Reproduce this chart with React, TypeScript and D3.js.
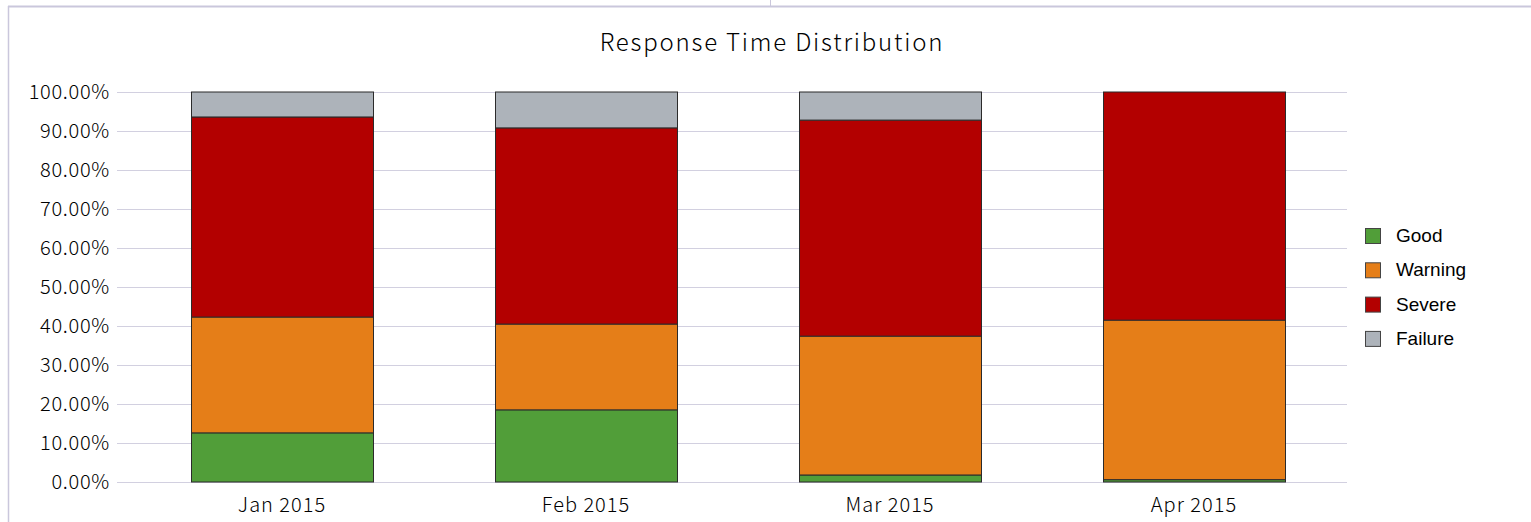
import { useEffect, useRef } from "react";
import * as d3 from "d3";

const months = ["Jan 2015", "Feb 2015", "Mar 2015", "Apr 2015"];
const seriesNames = ["Good", "Warning", "Severe", "Failure"];
const good = [12.6, 18.5, 1.8, 0.6];
const warning = [29.7, 22.0, 35.6, 40.9];
const severe = [51.3, 50.3, 55.4, 58.5];
const failure = [6.4, 9.2, 7.2, 0.0];
const yTicks = [0, 10, 20, 30, 40, 50, 60, 70, 80, 90, 100];
const colors = ["#519e39", "#e57e18", "#b30000", "#adb3ba"];

const W = 1531;
const H = 522;
const axisFont = "'Noto Sans CJK KR', 'DejaVu Sans', sans-serif";

function drawChart(el: SVGSVGElement) {
  const svg = d3.select(el);
  svg.selectAll("*").remove();

  svg.append("rect").attr("width", W).attr("height", H).attr("fill", "white");

  // frame lines
  svg.append("line").attr("x1", 8).attr("x2", W).attr("y1", 6.5).attr("y2", 6.5)
    .attr("stroke", "#cac7dc").attr("stroke-width", 2);
  svg.append("line").attr("x1", 8.5).attr("x2", 8.5).attr("y1", 6).attr("y2", H)
    .attr("stroke", "#cac7dc").attr("stroke-width", 1.5);
  svg.append("line").attr("x1", 770.5).attr("x2", 770.5).attr("y1", 0).attr("y2", 6)
    .attr("stroke", "#cac7dc").attr("stroke-width", 1);

  const x = d3.scaleBand<string>().domain(months).range([130, 1346]).paddingInner(0.4).paddingOuter(0.2);
  const y = d3.scaleLinear().domain([0, 100]).range([482, 92]);

  // grid
  svg.append("g")
    .selectAll("line")
    .data(yTicks)
    .join("line")
    .attr("x1", 117)
    .attr("x2", 1347)
    .attr("y1", (d) => Math.round(y(d)) + 0.5)
    .attr("y2", (d) => Math.round(y(d)) + 0.5)
    .attr("stroke", "#d2d0e0")
    .attr("stroke-width", 1);

  // y labels
  svg.append("g")
    .selectAll("text")
    .data(yTicks)
    .join("text")
    .attr("x", 110)
    .attr("y", (d) => y(d))
    .attr("dy", "0.36em")
    .attr("text-anchor", "end")
    .attr("font-family", axisFont)
    .attr("font-weight", 300)
    .attr("font-size", 20)
    .attr("letter-spacing", 0.7)
    .attr("fill", "#000")
    .text((d) => d3.format(".2f")(d) + "%");

  const rows = months.map((m, i) => ({
    month: m,
    Good: good[i],
    Warning: warning[i],
    Severe: severe[i],
    Failure: failure[i],
  }));
  const stacked = d3.stack<any>().keys(seriesNames)(rows);

  svg.append("g")
    .selectAll("g")
    .data(stacked)
    .join("g")
    .attr("fill", (_d, i) => colors[i])
    .selectAll("rect")
    .data((d) => d.filter((p) => p[1] - p[0] > 0))
    .join("rect")
    .attr("x", (d) => Math.round(x(d.data.month)!) + 0.5)
    .attr("width", Math.round(x.bandwidth()))
    .attr("y", (d) => y(d[1]))
    .attr("height", (d) => y(d[0]) - y(d[1]))
    .attr("stroke", "#2b2b2b")
    .attr("stroke-width", 1);

  // x labels
  svg.append("g")
    .selectAll("text")
    .data(months)
    .join("text")
    .attr("x", (d) => x(d)! + x.bandwidth() / 2)
    .attr("y", 512)
    .attr("text-anchor", "middle")
    .attr("font-family", axisFont)
    .attr("font-weight", 300)
    .attr("font-size", 20)
    .attr("letter-spacing", 1)
    .attr("fill", "#000")
    .text((d) => d);

  // title
  svg.append("text")
    .attr("x", 772)
    .attr("y", 51)
    .attr("text-anchor", "middle")
    .attr("font-family", axisFont)
    .attr("font-weight", 300)
    .attr("font-size", 24)
    .attr("letter-spacing", 1.8)
    .attr("fill", "#000")
    .text("Response Time Distribution");

  // legend
  const legend = svg.append("g")
    .selectAll("g")
    .data(seriesNames)
    .join("g")
    .attr("transform", (_d, i) => `translate(1365,${228 + i * 34.3})`);
  legend.append("rect")
    .attr("x", 0.5)
    .attr("y", 0.5)
    .attr("width", 15)
    .attr("height", 15)
    .attr("fill", (_d, i) => colors[i])
    .attr("stroke", "#444")
    .attr("stroke-width", 1);
  legend.append("text")
    .attr("x", 31)
    .attr("y", 14)
    .attr("font-family", "'Liberation Sans', Arial, sans-serif")
    .attr("font-size", 19)
    .attr("fill", "#000")
    .text((d) => d);
}

export default function App() {
  const ref = useRef<SVGSVGElement>(null);

  useEffect(() => {
    if (ref.current) drawChart(ref.current);
  }, []);

  return (
    <svg
      ref={ref}
      width={W}
      height={H}
      style={{ position: "absolute", left: 0, top: 0, display: "block" }}
    />
  );
}
